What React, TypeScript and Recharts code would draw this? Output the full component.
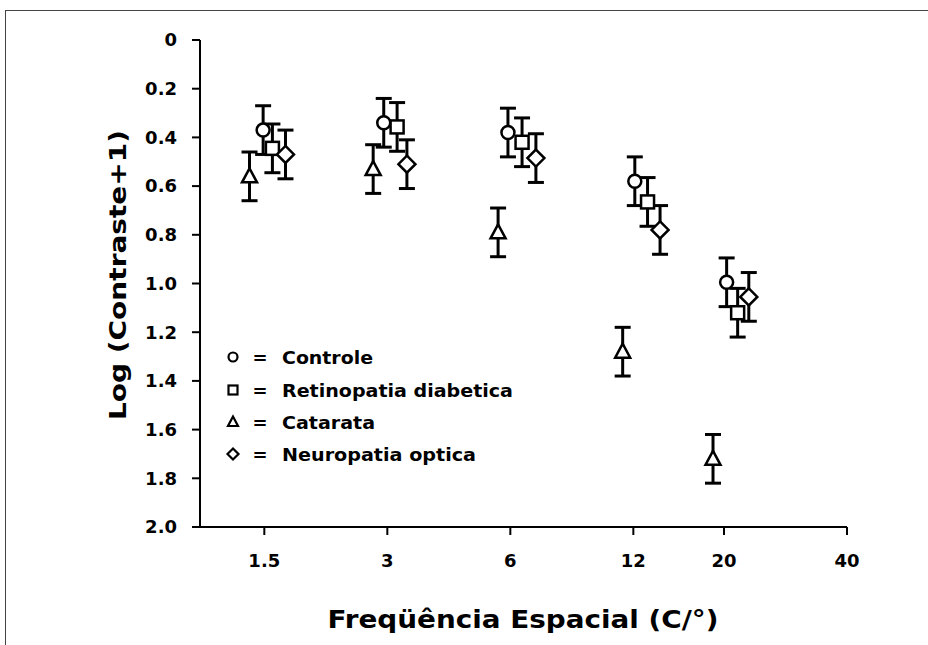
import React from 'react';
import { ScatterChart, Scatter, XAxis, YAxis, ErrorBar } from 'recharts';

// Tick labels
const freqTicks = [1.5, 3, 6, 12, 20, 40];
const yTicks = [0, 0.2, 0.4, 0.6, 0.8, 1.0, 1.2, 1.4, 1.6, 1.8, 2.0];

// Controle (circles)
const controleX = [1.49, 2.94, 5.92, 12.1, 20.3];
const controleY = [0.37, 0.34, 0.38, 0.58, 0.995];
const controleErr = [0.1, 0.1, 0.1, 0.1, 0.1];

// Retinopatia diabetica (squares)
const retinoX = [1.57, 3.17, 6.41, 13.0, 21.6];
const retinoY = [0.445, 0.357, 0.42, 0.665, 1.12];
const retinoErr = [0.1, 0.1, 0.1, 0.1, 0.1];

// Catarata (triangles)
const catarataX = [1.38, 2.77, 5.6, 11.3, 18.8];
const catarataY = [0.56, 0.53, 0.79, 1.28, 1.72];
const catarataErr = [0.1, 0.1, 0.1, 0.1, 0.1];

// Neuropatia optica (diamonds)
const neuroX = [1.69, 3.35, 6.93, 13.95, 23.0];
const neuroY = [0.47, 0.51, 0.485, 0.78, 1.055];
const neuroErr = [0.1, 0.1, 0.1, 0.1, 0.1];

const legendLabels = ['Controle', 'Retinopatia diabetica', 'Catarata', 'Neuropatia optica'];

const build = (xs: number[], ys: number[], es: number[]) =>
  xs.map((x, i) => ({ x, y: ys[i], err: es[i] }));

const FONT = 'DejaVu Sans, Liberation Sans, sans-serif';
const SW = 2.5;

const Circle = (p: any) => (
  <circle cx={p.cx} cy={p.cy} r={6.5} fill="#fff" stroke="#000" strokeWidth={SW} />
);
const Square = (p: any) => (
  <rect x={p.cx - 6.5} y={p.cy - 6.5} width={13} height={13} fill="#fff" stroke="#000" strokeWidth={SW} />
);
const Triangle = (p: any) => (
  <polygon
    points={`${p.cx},${p.cy - 8} ${p.cx - 7.5},${p.cy + 6} ${p.cx + 7.5},${p.cy + 6}`}
    fill="#fff"
    stroke="#000"
    strokeWidth={SW}
    strokeLinejoin="miter"
  />
);
const Diamond = (p: any) => (
  <polygon
    points={`${p.cx},${p.cy - 8.5} ${p.cx + 8.5},${p.cy} ${p.cx},${p.cy + 8.5} ${p.cx - 8.5},${p.cy}`}
    fill="#fff"
    stroke="#000"
    strokeWidth={SW}
  />
);

const fmtY = (v: number) => (v === 0 ? '0' : v.toFixed(1));

const legendSymbol = (i: number, cx: number, cy: number) => {
  const s = 2.2;
  if (i === 0) return <circle cx={cx} cy={cy} r={4.5} fill="#fff" stroke="#000" strokeWidth={s} />;
  if (i === 1) return <rect x={cx - 4.5} y={cy - 4.5} width={9} height={9} fill="#fff" stroke="#000" strokeWidth={s} />;
  if (i === 2)
    return (
      <polygon points={`${cx},${cy - 5.5} ${cx - 5},${cy + 4} ${cx + 5},${cy + 4}`} fill="#fff" stroke="#000" strokeWidth={s} />
    );
  return (
    <polygon points={`${cx},${cy - 5.5} ${cx + 5.5},${cy} ${cx},${cy + 5.5} ${cx - 5.5},${cy}`} fill="#fff" stroke="#000" strokeWidth={s} />
  );
};

export default function App() {
  const series = [
    { name: 'Controle', data: build(controleX, controleY, controleErr), shape: Circle },
    { name: 'Retinopatia diabetica', data: build(retinoX, retinoY, retinoErr), shape: Square },
    { name: 'Catarata', data: build(catarataX, catarataY, catarataErr), shape: Triangle },
    { name: 'Neuropatia optica', data: build(neuroX, neuroY, neuroErr), shape: Diamond },
  ];
  const legendRows = [357, 390, 422, 454];
  const legendWidths = [91, 231, 93, 194];
  return (
    <div style={{ position: 'absolute', left: 0, top: 0, width: 928, height: 645, background: '#fff', overflow: 'hidden' }}>
      <div
        style={{
          position: 'absolute',
          left: 5,
          top: 10,
          right: -4,
          bottom: -4,
          borderLeft: '1.5px solid #444',
          borderTop: '1.5px solid #444',
        }}
      />
      <ScatterChart width={928} height={645} margin={{ top: 40, right: 81, bottom: 78, left: 140 }}>
        <XAxis
          type="number"
          dataKey="x"
          scale="log"
          domain={[1.044, 40]}
          ticks={freqTicks}
          allowDataOverflow
          height={40}
          tickSize={8}
          tickMargin={19}
          axisLine={{ stroke: '#000', strokeWidth: 2 }}
          tickLine={{ stroke: '#000', strokeWidth: 2 }}
          tick={{ fill: '#000', fontSize: 18, fontFamily: FONT, fontWeight: 'bold' }}
          interval={0}
        />
        <YAxis
          type="number"
          dataKey="y"
          reversed
          domain={[0, 2]}
          ticks={yTicks}
          allowDataOverflow
          width={60}
          tickSize={8}
          tickMargin={15}
          tickFormatter={fmtY}
          axisLine={{ stroke: '#000', strokeWidth: 2 }}
          tickLine={{ stroke: '#000', strokeWidth: 2 }}
          tick={{ fill: '#000', fontSize: 18, fontFamily: FONT, fontWeight: 'bold' }}
          interval={0}
        />
        {series.map((s) => (
          <Scatter key={s.name} name={s.name} data={s.data} shape={s.shape} isAnimationActive={false}>
            <ErrorBar dataKey="err" direction="y" width={8} strokeWidth={3} stroke="#000" />
          </Scatter>
        ))}
      </ScatterChart>
      <svg
        width={928}
        height={645}
        style={{ position: 'absolute', left: 0, top: 0, pointerEvents: 'none' }}
      >
        <text
          x={118}
          y={275}
          transform="rotate(-90 118 275)"
          textAnchor="middle"
          dominantBaseline="central"
          fontFamily={FONT}
          fontWeight="bold"
          fontSize={23}
          fill="#000"
          textLength={290}
          lengthAdjust="spacingAndGlyphs"
        >
          Log (Contraste+1)
        </text>
        <text
          x={523}
          y={620}
          textAnchor="middle"
          dominantBaseline="central"
          fontFamily={FONT}
          fontWeight="bold"
          fontSize={24}
          fill="#000"
          textLength={391}
          lengthAdjust="spacingAndGlyphs"
        >
          Freqüência Espacial (C/°)
        </text>
        {legendLabels.map((lab, i) => (
          <g key={lab}>
            {legendSymbol(i, 233, legendRows[i])}
            <text
              x={260}
              y={legendRows[i]}
              textAnchor="middle"
              dominantBaseline="central"
              fontFamily={FONT}
              fontWeight="bold"
              fontSize={18}
              fill="#000"
            >
              =
            </text>
            <text
              x={282}
              y={legendRows[i]}
              dominantBaseline="central"
              fontFamily={FONT}
              fontWeight="bold"
              fontSize={18}
              fill="#000"
              textLength={legendWidths[i]}
              lengthAdjust="spacingAndGlyphs"
            >
              {lab}
            </text>
          </g>
        ))}
      </svg>
    </div>
  );
}
